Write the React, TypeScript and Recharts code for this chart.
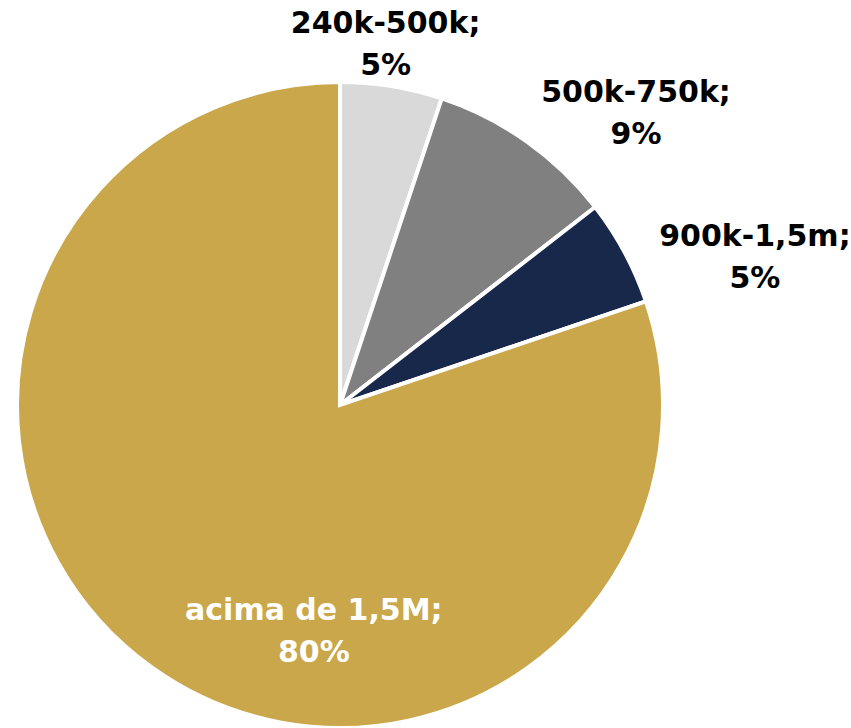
import React from 'react';
import { PieChart, Pie, Cell } from 'recharts';

const faixas = ['240k-500k', '500k-750k', '900k-1,5m', 'acima de 1,5M'];
const valores = [5.1, 9.4, 5.3, 80.2];
const rotulos = ['5%', '9%', '5%', '80%'];

const cores = ['#D9D9D9', '#808080', '#18284A', '#C9A74A'];
const corTexto = ['#000000', '#000000', '#000000', '#FFFFFF'];
// ajuste de posição do rótulo: fator do raio e desvio de ângulo (graus)
const rotuloRaio = [1.13, 1.29, 1.365, 0.7];
const rotuloAngulo = [2, -10, -8.5, 29];

const dados = faixas.map((f, i) => ({ nome: f, valor: valores[i], pct: rotulos[i] }));

const RAD = Math.PI / 180;

function Rotulo(props: any) {
  const { cx, cy, midAngle, outerRadius, index } = props;
  const r = outerRadius * rotuloRaio[index];
  const a = (midAngle + rotuloAngulo[index]) * RAD;
  const x = cx + r * Math.cos(a);
  const y = cy - r * Math.sin(a);
  return (
    <text
      x={x}
      y={y}
      textAnchor="middle"
      fill={corTexto[index]}
      fontFamily="DejaVu Sans"
      fontWeight="bold"
      fontSize={30}
    >
      <tspan x={x} dy={-10}>{dados[index].nome};</tspan>
      <tspan x={x} dy={42}>{dados[index].pct}</tspan>
    </text>
  );
}

export default function App() {
  return (
    <div style={{ position: 'absolute', left: 0, top: 0, width: 851, height: 728, background: '#fff' }}>
      <PieChart width={851} height={728} margin={{ top: 0, right: 0, bottom: 0, left: 0 }}>
        <Pie
          data={dados}
          dataKey="valor"
          nameKey="nome"
          cx={340}
          cy={405}
          outerRadius={323}
          startAngle={90}
          endAngle={-270}
          stroke="#FFFFFF"
          strokeWidth={4}
          label={Rotulo}
          labelLine={false}
          isAnimationActive={false}
        >
          {dados.map((d, i) => (
            <Cell key={d.nome} fill={cores[i]} />
          ))}
        </Pie>
      </PieChart>
    </div>
  );
}
